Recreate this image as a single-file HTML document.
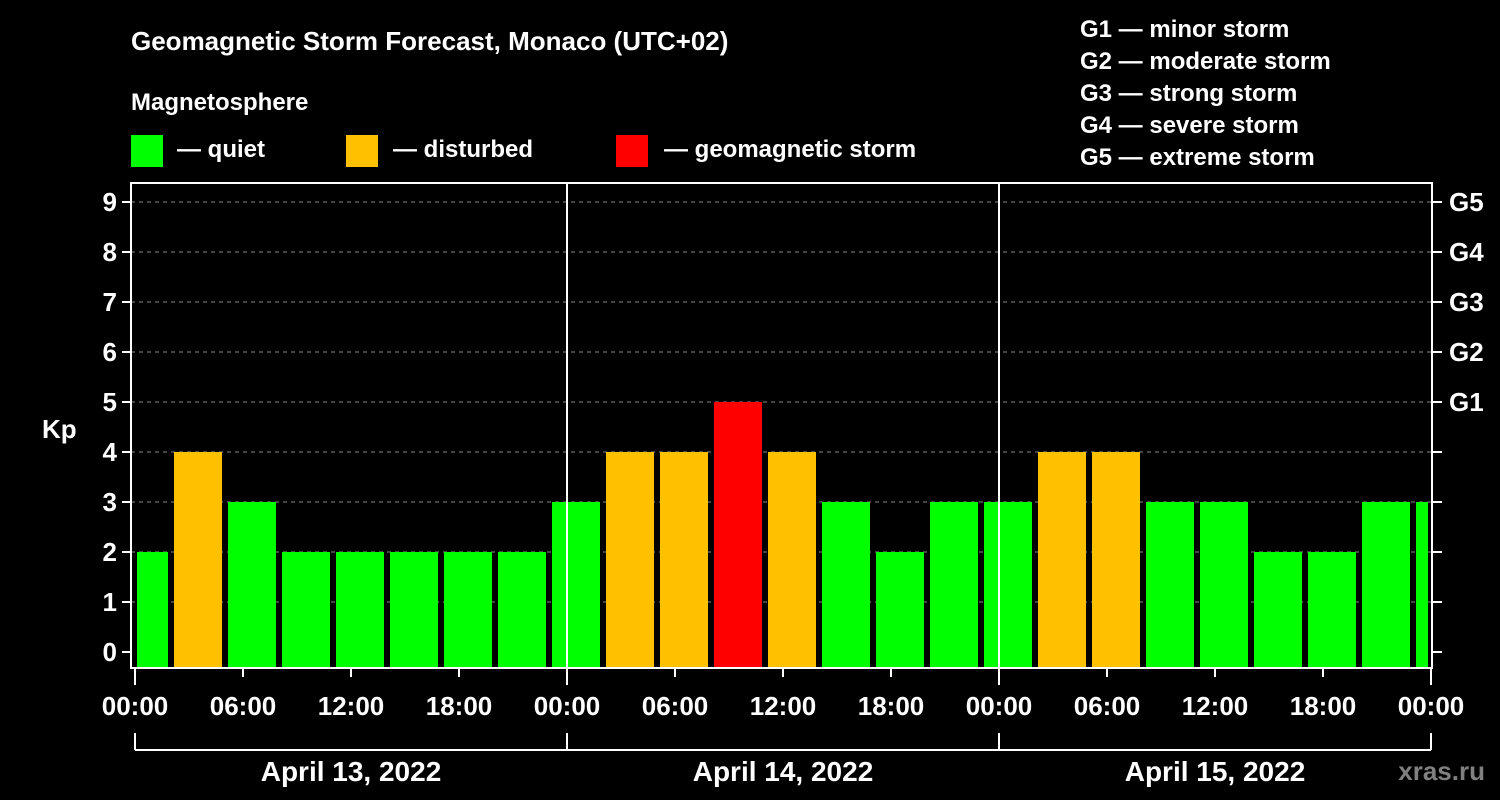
<!DOCTYPE html>
<html><head><meta charset="utf-8"><style>
body{margin:0;background:#000;}
svg{display:block;font-family:"Liberation Sans",Arial,sans-serif;font-weight:bold;}
</style></head><body>
<svg id="c" width="1500" height="800" viewBox="0 0 1500 800">
<rect width="1500" height="800" fill="#000"/>
<text x="131" y="50" fill="#fff" font-size="26">Geomagnetic Storm Forecast, Monaco (UTC+02)</text>
<text x="131" y="110" fill="#fff" font-size="24">Magnetosphere</text>
<g><rect x="131" y="135" width="32" height="32" fill="#00ff00"/><text x="177" y="157" fill="#fff" font-size="24">— quiet</text></g>
<g><rect x="346" y="135" width="32" height="32" fill="#ffc000"/><text x="393" y="157" fill="#fff" font-size="24">— disturbed</text></g>
<g><rect x="616" y="135" width="32" height="32" fill="#ff0000"/><text x="664" y="157" fill="#fff" font-size="24">— geomagnetic storm</text></g>
<g fill="#fff" font-size="24">
<text x="1080" y="37">G1 — minor storm</text>
<text x="1080" y="69">G2 — moderate storm</text>
<text x="1080" y="101">G3 — strong storm</text>
<text x="1080" y="133">G4 — severe storm</text>
<text x="1080" y="165">G5 — extreme storm</text>
</g>
<text x="42" y="438" fill="#fff" font-size="26">Kp</text>
<text x="1485" y="780" fill="#808080" font-size="26" text-anchor="end">xras.ru</text>
<g id="plot"></g>
</svg>
<script>
const kpValues=[2,4,3,2,2,2,2,2,3,4,4,5,4,3,2,3,3,4,4,3,3,2,2,3,3];
const yTicks=[0,1,2,3,4,5,6,7,8,9];
const gLabels=["G1","G2","G3","G4","G5"];
const timeLabels=["00:00","06:00","12:00","18:00","00:00","06:00","12:00","18:00","00:00","06:00","12:00","18:00","00:00"];
const dayLabels=["April 13, 2022","April 14, 2022","April 15, 2022"];
const NS="http://www.w3.org/2000/svg";
const L=131,R=1432,T=183,B=668,X0=135,HPX=18;
const y=v=>652-50*v;
const x=h=>X0+h*HPX;
const g=document.getElementById('plot');
function mk(tag,a,p){const e=document.createElementNS(NS,tag);for(const k in a)e.setAttribute(k,a[k]);(p||g).appendChild(e);return e;}
yTicks.forEach(v=>{
 if(v>0){const gl=mk('line',{x1:L,x2:R,y1:y(v),y2:y(v),stroke:'#888','stroke-dasharray':'4,4'});
 
 }
 mk('line',{x1:L-9,x2:L,y1:y(v),y2:y(v),stroke:'#fff','stroke-width':2});
 mk('line',{x1:R,x2:R+10,y1:y(v),y2:y(v),stroke:'#fff','stroke-width':2});
 const t=mk('text',{x:L-14,y:y(v)+9,fill:'#fff','font-size':26,'text-anchor':'end'});
 t.textContent=v;
 
 
});
gLabels.forEach((s,i)=>{
 const t=mk('text',{x:1449,y:y(5+i)+9,fill:'#fff','font-size':26});
 t.textContent=s;
 
 
});
kpValues.forEach((v,i)=>{
 let x1=x(3*i-1)+3,x2=x(3*i+2)-3;
 x1=Math.max(x1,X0+2);x2=Math.min(x2,R-4);
 const c=v>=5?'#ff0000':v>=4?'#ffc000':'#00ff00';
 const r=mk('rect',{x:x1,y:y(v),width:x2-x1,height:B-y(v),fill:c});
 
 
});
[1,2].forEach(d=>mk('line',{x1:x(24*d),x2:x(24*d),y1:T,y2:B,stroke:'#fff','stroke-width':2}));
const fr=mk('rect',{x:L,y:T,width:R-L,height:B-T,fill:'none',stroke:'#fff','stroke-width':2});


timeLabels.forEach((s,i)=>{
 const xx=x(6*i);
 mk('line',{x1:xx,x2:xx,y1:B,y2:B+(i%4==0?17:9),stroke:'#fff','stroke-width':2});
 const t=mk('text',{x:xx,y:715,fill:'#fff','font-size':26,'text-anchor':'middle'});
 t.textContent=s;
 
 
});
mk('line',{x1:x(0),x2:x(72),y1:750,y2:750,stroke:'#fff','stroke-width':2});
[0,24,48,72].forEach(h=>mk('line',{x1:x(h),x2:x(h),y1:733,y2:750,stroke:'#fff','stroke-width':2}));
dayLabels.forEach((s,i)=>{
 const t=mk('text',{x:x(24*i+12),y:781,fill:'#fff','font-size':28,'text-anchor':'middle'});
 t.textContent=s;
 
 
});
</script>
</body></html>
